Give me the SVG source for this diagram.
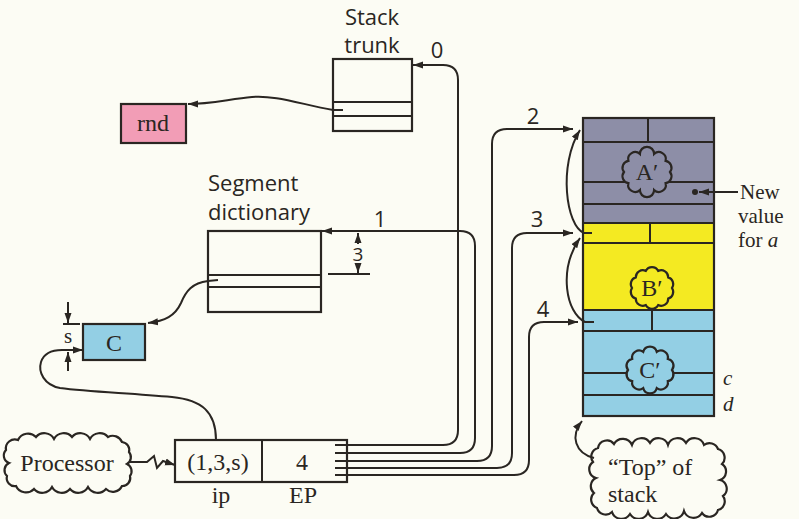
<svg xmlns="http://www.w3.org/2000/svg" width="799" height="519" viewBox="0 0 799 519">
<defs>
<marker id="ah" markerUnits="userSpaceOnUse" markerWidth="11" markerHeight="8" refX="10" refY="4" orient="auto">
<path d="M0,0.5 L10,4 L0,7.5 z" fill="#2a2622"/>
</marker>
<style>
.ln{fill:none;stroke:#2a2622;stroke-width:2}
.bx{stroke:#2a2622;stroke-width:2.2}
.sf{font-family:"Liberation Serif","Times New Roman",serif;font-size:24px;fill:#2a2622}
.ss{font-family:"Open Sans","DejaVu Sans",sans-serif;font-size:22px;fill:#2a2622}
.sm{font-size:21px}
.it{font-style:italic}
.cl{stroke:#2a2622;stroke-width:2.2}
</style>
</defs>
<rect width="799" height="519" fill="#fcfcf4"/>

<g id="stack-trunk">
<text class="ss" x="372" y="25" text-anchor="middle">Stack</text>
<text class="ss" x="372" y="53" text-anchor="middle">trunk</text>
<rect class="bx" x="333" y="59" width="79" height="72" fill="#fcfcf4"/>
<line class="ln" x1="333" y1="102" x2="412" y2="102"/>
<line class="ln" x1="333" y1="116" x2="412" y2="116"/>
</g>

<g id="rnd">
<rect class="bx" x="121" y="104" width="65" height="39" fill="#f29db6"/>
<text class="sf" x="153" y="131" text-anchor="middle">rnd</text>
</g>

<g id="segment-dictionary">
<text class="ss" x="208" y="191">Segment</text>
<text class="ss" x="208" y="220">dictionary</text>
<rect class="bx" x="208" y="231" width="113" height="81" fill="#fcfcf4"/>
<line class="ln" x1="208" y1="275" x2="321" y2="275"/>
<line class="ln" x1="208" y1="287" x2="321" y2="287"/>
</g>

<g id="c-box">
<rect class="bx" x="83" y="324" width="62" height="36" fill="#93cfe4"/>
<text class="sf" x="114" y="351" text-anchor="middle">C</text>
</g>

<g id="processor">
<path class="cl" fill="#fcfcf4" d="M18,440 A11,11 0 0 1 36,437 A11,11 0 0 1 54,439 A11,11 0 0 1 72,437 A11,11 0 0 1 90,439 A11,11 0 0 1 108,437 A10,10 0 0 1 122,442 A8,8 0 0 1 129,452 A8,8 0 0 1 127,464 A8,8 0 0 1 130,476 A8,8 0 0 1 122,486 A10,10 0 0 1 106,489 A11,11 0 0 1 88,487 A11,11 0 0 1 70,489 A11,11 0 0 1 52,487 A11,11 0 0 1 34,489 A11,11 0 0 1 16,486 A8,8 0 0 1 7,476 A8,8 0 0 1 9,463 A8,8 0 0 1 6,450 A9,9 0 0 1 18,440 z"/>
<text class="sf" x="67" y="471" text-anchor="middle">Processor</text>
</g>

<g id="ip-ep">
<rect class="bx" x="175" y="440" width="172" height="42" fill="#fcfcf4"/>
<line class="ln" x1="262" y1="440" x2="262" y2="482"/>
<text class="sf" x="218" y="470" text-anchor="middle">(1,3,s)</text>
<text class="sf" x="302" y="470" text-anchor="middle">4</text>
<text class="sf" x="221" y="503" text-anchor="middle">ip</text>
<text class="sf" x="303" y="503" text-anchor="middle">EP</text>
</g>

<g id="stack">
<rect x="583" y="118" width="131" height="105" fill="#8d8ea7"/>
<rect x="583" y="223" width="131" height="87" fill="#f4ea22"/>
<rect x="583" y="310" width="131" height="106" fill="#93cfe4"/>
<g class="ln">
<line x1="583" y1="142" x2="714" y2="142"/>
<line x1="583" y1="182" x2="714" y2="182"/>
<line x1="583" y1="204" x2="714" y2="204"/>
<line x1="583" y1="223" x2="714" y2="223"/>
<line x1="583" y1="243" x2="714" y2="243"/>
<line x1="583" y1="310" x2="714" y2="310"/>
<line x1="583" y1="331" x2="714" y2="331"/>
<line x1="583" y1="373" x2="714" y2="373"/>
<line x1="583" y1="395" x2="714" y2="395"/>
<line x1="648" y1="118" x2="648" y2="142"/>
<line x1="650" y1="223" x2="650" y2="243"/>
<line x1="652" y1="310" x2="652" y2="331"/>
</g>
<rect class="bx" x="583" y="118" width="131" height="298" fill="none"/>
<path class="cl" fill="#8d8ea7" d="M670,172 A7,7 0 0 1 665.6,183.2 A7,7 0 0 1 654.1,190.1 A7,7 0 0 1 639.9,190.1 A7,7 0 0 1 628.4,183.2 A7,7 0 0 1 624,172 A7,7 0 0 1 628.4,160.8 A7,7 0 0 1 639.9,153.9 A7,7 0 0 1 654.1,153.9 A7,7 0 0 1 665.6,160.8 A7,7 0 0 1 670,172 z"/>
<text class="sf" x="647" y="180" text-anchor="middle">A′</text>
<path class="cl" fill="#f4ea22" d="M672,288 A7,7 0 0 1 668.2,298.6 A7,7 0 0 1 658.2,305.1 A7,7 0 0 1 645.8,305.1 A7,7 0 0 1 635.8,298.6 A7,7 0 0 1 632,288 A7,7 0 0 1 635.8,277.4 A7,7 0 0 1 645.8,270.9 A7,7 0 0 1 658.2,270.9 A7,7 0 0 1 668.2,277.4 A7,7 0 0 1 672,288 z"/>
<text class="sf" x="652" y="296" text-anchor="middle">B′</text>
<path class="cl" fill="#93cfe4" d="M672,370 A7,7 0 0 1 667.8,381.2 A7,7 0 0 1 656.8,388.1 A7,7 0 0 1 643.2,388.1 A7,7 0 0 1 632.2,381.2 A7,7 0 0 1 628,370 A7,7 0 0 1 632.2,358.8 A7,7 0 0 1 643.2,351.9 A7,7 0 0 1 656.8,351.9 A7,7 0 0 1 667.8,358.8 A7,7 0 0 1 672,370 z"/>
<text class="sf" x="650" y="378" text-anchor="middle">C′</text>
<circle cx="695" cy="192" r="3" fill="#2a2622"/>
<text class="sf sm it" x="723" y="385">c</text>
<text class="sf sm it" x="723" y="411">d</text>
</g>

<g id="new-value">
<text class="sf sm" x="740" y="199">New</text>
<text class="sf sm" x="738" y="223">value</text>
<text class="sf sm" x="738" y="247">for <tspan class="it">a</tspan></text>
</g>

<g id="top-of-stack">
<path class="cl" fill="#fcfcf4" d="M598,448 A9,9 0 0 1 614,444 A10,10 0 0 1 632,445 A10,10 0 0 1 650,443 A10,10 0 0 1 668,445 A10,10 0 0 1 686,443 A10,10 0 0 1 704,445 A9,9 0 0 1 718,449 A9,9 0 0 1 722,464 A9,9 0 0 1 720,480 A9,9 0 0 1 723,496 A9,9 0 0 1 718,510 A9,9 0 0 1 702,513 A10,10 0 0 1 684,511 A10,10 0 0 1 666,514 A10,10 0 0 1 648,512 A10,10 0 0 1 630,514 A10,10 0 0 1 612,512 A9,9 0 0 1 597,508 A9,9 0 0 1 594,493 A9,9 0 0 1 596,478 A9,9 0 0 1 593,462 A9,9 0 0 1 598,448 z"/>
<text class="sf" x="608" y="475">“Top” of</text>
<text class="sf" x="608" y="502">stack</text>
</g>

<g id="labels">
<text class="ss" x="437" y="58" text-anchor="middle">0</text>
<text class="ss" x="380" y="227" text-anchor="middle">1</text>
<text class="ss" x="533" y="124" text-anchor="middle">2</text>
<text class="ss" x="537" y="227" text-anchor="middle">3</text>
<text class="ss" x="543" y="317" text-anchor="middle">4</text>
<text class="ss" x="358" y="261" text-anchor="middle" style="font-size:19px">3</text>
<text class="sf" x="68" y="343" text-anchor="middle" style="font-size:21px">s</text>
</g>

<g id="connectors">
<path class="ln" marker-end="url(#ah)" d="M335,445 L443,445 Q458,445 458,430 L458,80 Q458,65 443,65 L413,65"/>
<path class="ln" marker-end="url(#ah)" d="M335,453 L460,453 Q475,453 475,438 L475,246 Q475,231 460,231 L322,231"/>
<path class="ln" marker-end="url(#ah)" d="M335,461 L477,461 Q492,461 492,446 L492,144 Q492,129 507,129 L573,129"/>
<path class="ln" marker-end="url(#ah)" d="M335,468 L497,468 Q512,468 512,453 L512,248 Q512,233 527,233 L573,233"/>
<path class="ln" marker-end="url(#ah)" d="M335,475 L514,475 Q529,475 529,460 L529,337 Q529,322 544,322 L578,322"/>
<path class="ln" marker-end="url(#ah)" d="M343,110 L333,110 C300,104 275,95 252,97 C230,99 210,104 188,104"/>
<path class="ln" marker-end="url(#ah)" d="M218,280 L208,281 C192,283 186,291 181,303 C175,316 165,321 148,323"/>
<path class="ln" marker-end="url(#ah)" d="M216,440 C216,412 202,400 172,397 C130,393 90,392 60,388 C44,385 38,372 41,362 C44,353 52,350 62,350 L83,350"/>
<path class="ln" marker-end="url(#ah)" d="M130,462 L147,462 L154,456 L157,468 L163,461 L175,465"/>
<path class="ln" marker-end="url(#ah)" d="M592,233 L584,233 C566,226 558,165 580,130"/>
<path class="ln" marker-end="url(#ah)" d="M594,322 L585,322 C566,313 558,270 580,238"/>
<path class="ln" marker-end="url(#ah)" d="M594,458 C575,453 570,436 582,421"/>
<path class="ln" marker-end="url(#ah)" d="M738,192 L699,192"/>
<line class="ln" x1="358" y1="244" x2="358" y2="233" marker-end="url(#ah)"/>
<line class="ln" x1="358" y1="263" x2="358" y2="273" marker-end="url(#ah)"/>
<line class="ln" x1="328" y1="274" x2="370" y2="274"/>
<line class="ln" x1="68" y1="302" x2="68" y2="323" marker-end="url(#ah)"/>
<line class="ln" x1="63" y1="324" x2="80" y2="324"/>
<line class="ln" x1="68" y1="371" x2="68" y2="352" marker-end="url(#ah)"/>
</g>
</svg>
